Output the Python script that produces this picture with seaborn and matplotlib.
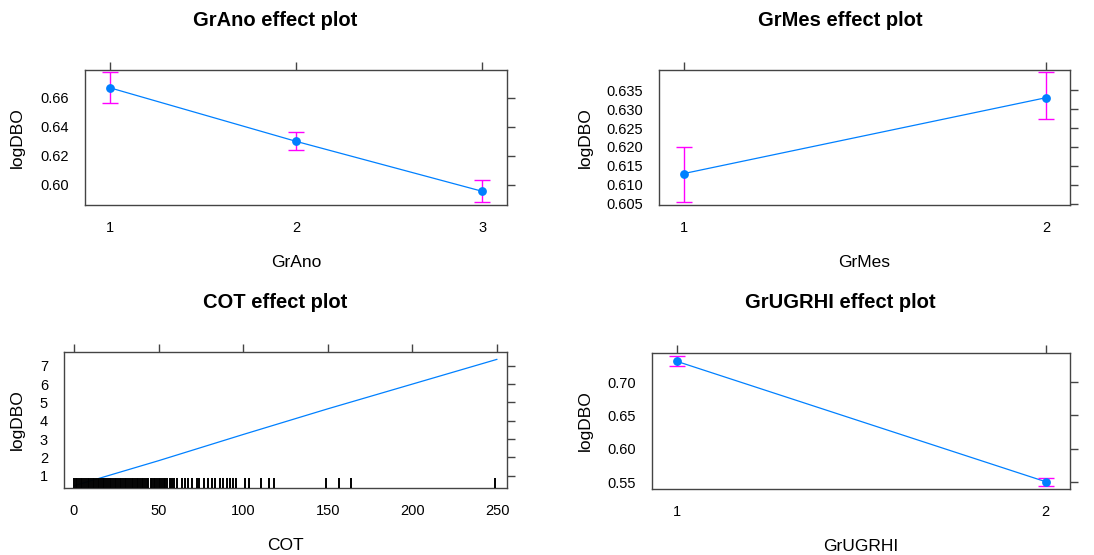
import numpy as np
import pandas as pd
import seaborn as sns
import matplotlib.pyplot as plt

# effect estimates
grano_lvl = [1, 2, 3]
grano_fit = [0.667, 0.630, 0.5955]
grano_lo = [0.6563, 0.6239, 0.5880]
grano_hi = [0.6778, 0.6363, 0.6032]

grmes_lvl = [1, 2]
grmes_fit = [0.6130, 0.6330]
grmes_lo = [0.6054, 0.6274]
grmes_hi = [0.6201, 0.6397]

grugrhi_lvl = [1, 2]
grugrhi_fit = [0.7309, 0.5509]
grugrhi_lo = [0.7240, 0.5444]
grugrhi_hi = [0.7384, 0.5564]

cot_x = [0, 50, 100, 150, 200, 250]
cot_fit = [0.45, 1.82, 3.25, 4.65, 6.0, 7.35]

# observed COT values (rug)
cot_rug = [0, 1, 2, 3, 4, 5, 6, 7, 8, 9, 10, 11, 12, 13, 14, 15, 16, 17, 18, 19,
           20, 21, 22, 23, 24, 25, 26, 27, 28, 29, 30, 31, 32, 33, 34, 35, 36, 37,
           38, 39, 40, 41, 42, 43, 44, 45.5, 46, 47, 48, 49, 50, 51, 52, 53, 54,
           55, 56.5, 58, 59, 60.7, 63.6, 65.6, 67.6, 69.6, 72.5, 74.1, 76.8, 79.4,
           81.3, 83.3, 86.3, 87.8, 90.2, 92.1, 94.1, 95.7, 101, 103.4, 110.5, 115,
           118.4, 148.7, 156.8, 163.7, 249]

sns.set_style("white")
plt.rcParams['font.family'] = ['Liberation Sans', 'DejaVu Sans']
plt.rcParams['text.color'] = 'black'
plt.rcParams['axes.labelcolor'] = 'black'
plt.rcParams['xtick.color'] = 'black'
plt.rcParams['ytick.color'] = 'black'

BLUE = '#0080FF'
MAG = '#FF00FF'
W, H = 1094, 555

fig = plt.figure(figsize=(W / 100, H / 100), dpi=100)


def px_axes(x0, y0, x1, y1):
    return fig.add_axes([x0 / W, 1 - y1 / H, (x1 - x0) / W, (y1 - y0) / H])


def style_axes(ax, xlab, ylab_x):
    for s in ax.spines.values():
        s.set_color('#444444')
        s.set_linewidth(1.0)
    ax.tick_params(top=True, right=True, labeltop=False, labelright=False,
                   direction='out', length=6, width=1.0, color='#444444',
                   labelcolor='black', labelsize=10.5, pad=5.5)
    ax.set_xlabel(xlab, fontsize=12.5, color='black')
    ax.set_ylabel('logDBO', fontsize=12.5, color='black')
    ax.xaxis.set_label_coords(0.5, -0.37)
    ax.yaxis.set_label_coords(ylab_x, 0.5)


def factor_panel(ax, lvl, fit, lo, hi):
    d = pd.DataFrame({'x': lvl, 'fit': fit})
    sns.lineplot(data=d, x='x', y='fit', ax=ax, color=BLUE, lw=0.9)
    err = [np.array(fit) - np.array(lo), np.array(hi) - np.array(fit)]
    ax.errorbar(lvl, fit, yerr=err, fmt='none', ecolor=MAG, elinewidth=1.0,
                capsize=5.5, capthick=1.0)
    sns.scatterplot(data=d, x='x', y='fit', ax=ax, color=BLUE, s=40,
                    edgecolor=BLUE, linewidth=0, zorder=5)
    ax.set_xticks(lvl)
    ax.set_xticklabels([str(v) for v in lvl])


# GrAno
ax1 = px_axes(85, 70, 507, 205)
factor_panel(ax1, grano_lvl, grano_fit, grano_lo, grano_hi)
ax1.set_xlim(0.866, 3.134)
ax1.set_ylim(0.586, 0.6793)
ax1.set_yticks([0.60, 0.62, 0.64, 0.66])
ax1.set_yticklabels(['0.60', '0.62', '0.64', '0.66'])
style_axes(ax1, 'GrAno', -0.142)

# GrMes
ax2 = px_axes(659, 70, 1070, 205)
factor_panel(ax2, grmes_lvl, grmes_fit, grmes_lo, grmes_hi)
ax2.set_xlim(0.931, 2.066)
ax2.set_ylim(0.6047, 0.6403)
ax2.set_yticks([0.605, 0.610, 0.615, 0.620, 0.625, 0.630, 0.635])
ax2.set_yticklabels(['0.605', '0.610', '0.615', '0.620', '0.625', '0.630', '0.635'])
style_axes(ax2, 'GrMes', -0.161)

# COT
ax3 = px_axes(64, 352, 507, 488)
sns.lineplot(x=cot_x, y=cot_fit, ax=ax3, color=BLUE, lw=0.9, zorder=2)
sns.rugplot(x=cot_rug, ax=ax3, height=0.075, color='black', linewidth=1.4,
            alpha=1, zorder=3, expand_margins=False)
ax3.set_xlim(-5.9, 255.9)
ax3.set_ylim(0.33, 7.75)
ax3.set_xticks([0, 50, 100, 150, 200, 250])
ax3.set_yticks([1, 2, 3, 4, 5, 6, 7])
style_axes(ax3, 'COT', -0.088)

# GrUGRHI
ax4 = px_axes(652, 353, 1070, 489)
factor_panel(ax4, grugrhi_lvl, grugrhi_fit, grugrhi_lo, grugrhi_hi)
ax4.set_xlim(0.932, 2.066)
ax4.set_ylim(0.540, 0.7435)
ax4.set_yticks([0.55, 0.60, 0.65, 0.70])
ax4.set_yticklabels(['0.55', '0.60', '0.65', '0.70'])
style_axes(ax4, 'GrUGRHI', -0.141)

titles = [('GrAno effect plot', 275, 20), ('GrMes effect plot', 840, 20),
          ('COT effect plot', 275, 303), ('GrUGRHI effect plot', 840, 303)]
for t, x, y in titles:
    fig.text(x / W, 1 - y / H, t, ha='center', va='center',
             fontsize=14.5, fontweight='bold', color='black')

fig.savefig('out.png', dpi=100)
